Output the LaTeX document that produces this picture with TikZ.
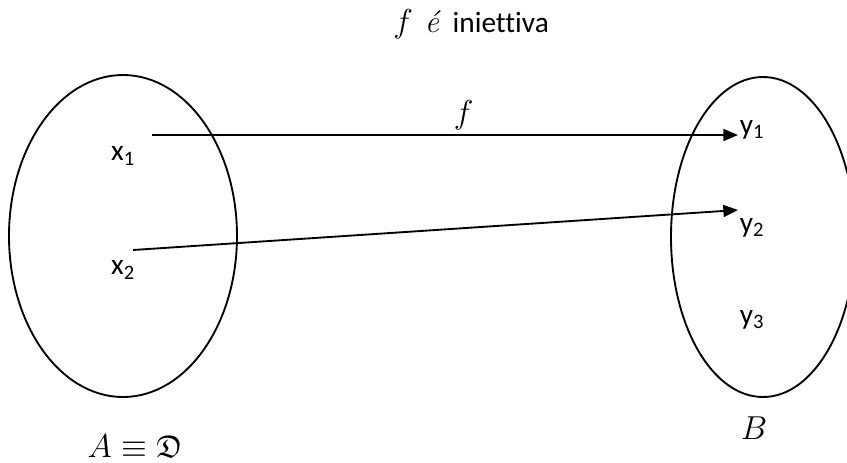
\documentclass[tikz,border=0pt]{standalone}
\usepackage{amsmath, amssymb}
\usepackage{fontspec}
\newfontfamily\calib{Carlito}[Ligatures=NoCommon]
\usetikzlibrary{arrows.meta, positioning}

\begin{document}
\begin{tikzpicture}[x=0.75pt, y=-0.75pt, line width=1.4pt,
    >={Triangle[length=11pt, width=9pt]},
    lbl/.style={inner sep=1pt, font=\calib\fontsize{22}{26}\selectfont},
    mlbl/.style={inner sep=1pt, font=\fontsize{23.5}{28}\selectfont}]
  \clip (0,0) rectangle (847,462);
  % title
  \node[mlbl, anchor=west] (title) at (391,24)
    {$f$\hspace{9pt}\textit{é}\hspace{9pt}{\calib\fontsize{22}{26}\selectfont iniettiva}};
  % sets A and B
  \draw (123,236) ellipse [x radius=114, y radius=161];
  \draw (763,237) ellipse [x radius=92, y radius=160];
  % elements
  \node[lbl] (x1) at (123,156) {x\textsubscript{1}};
  \node[lbl] (x2) at (123,270) {x\textsubscript{2}};
  \node[lbl] (y1) at (752,130) {y\textsubscript{1}};
  \node[lbl] (y2) at (752,228) {y\textsubscript{2}};
  \node[lbl] (y3) at (752,320) {y\textsubscript{3}};
  % set names
  \node[mlbl] (A) at (135,446) {$A \equiv \mathfrak{D}$};
  \node[mlbl] (B) at (754,428) {$B$};
  % arrow ends
  \coordinate (s1) at (152,135);
  \coordinate (t1) at (738,135);
  \coordinate (s2) at (133,250);
  \coordinate (t2) at (738,210);
  \draw[->] (s1) -- (t1) node[mlbl, midway, above=2pt, xshift=14pt] (f) {$f$};
  \draw[->] (s2) -- (t2);
\end{tikzpicture}
\end{document}
